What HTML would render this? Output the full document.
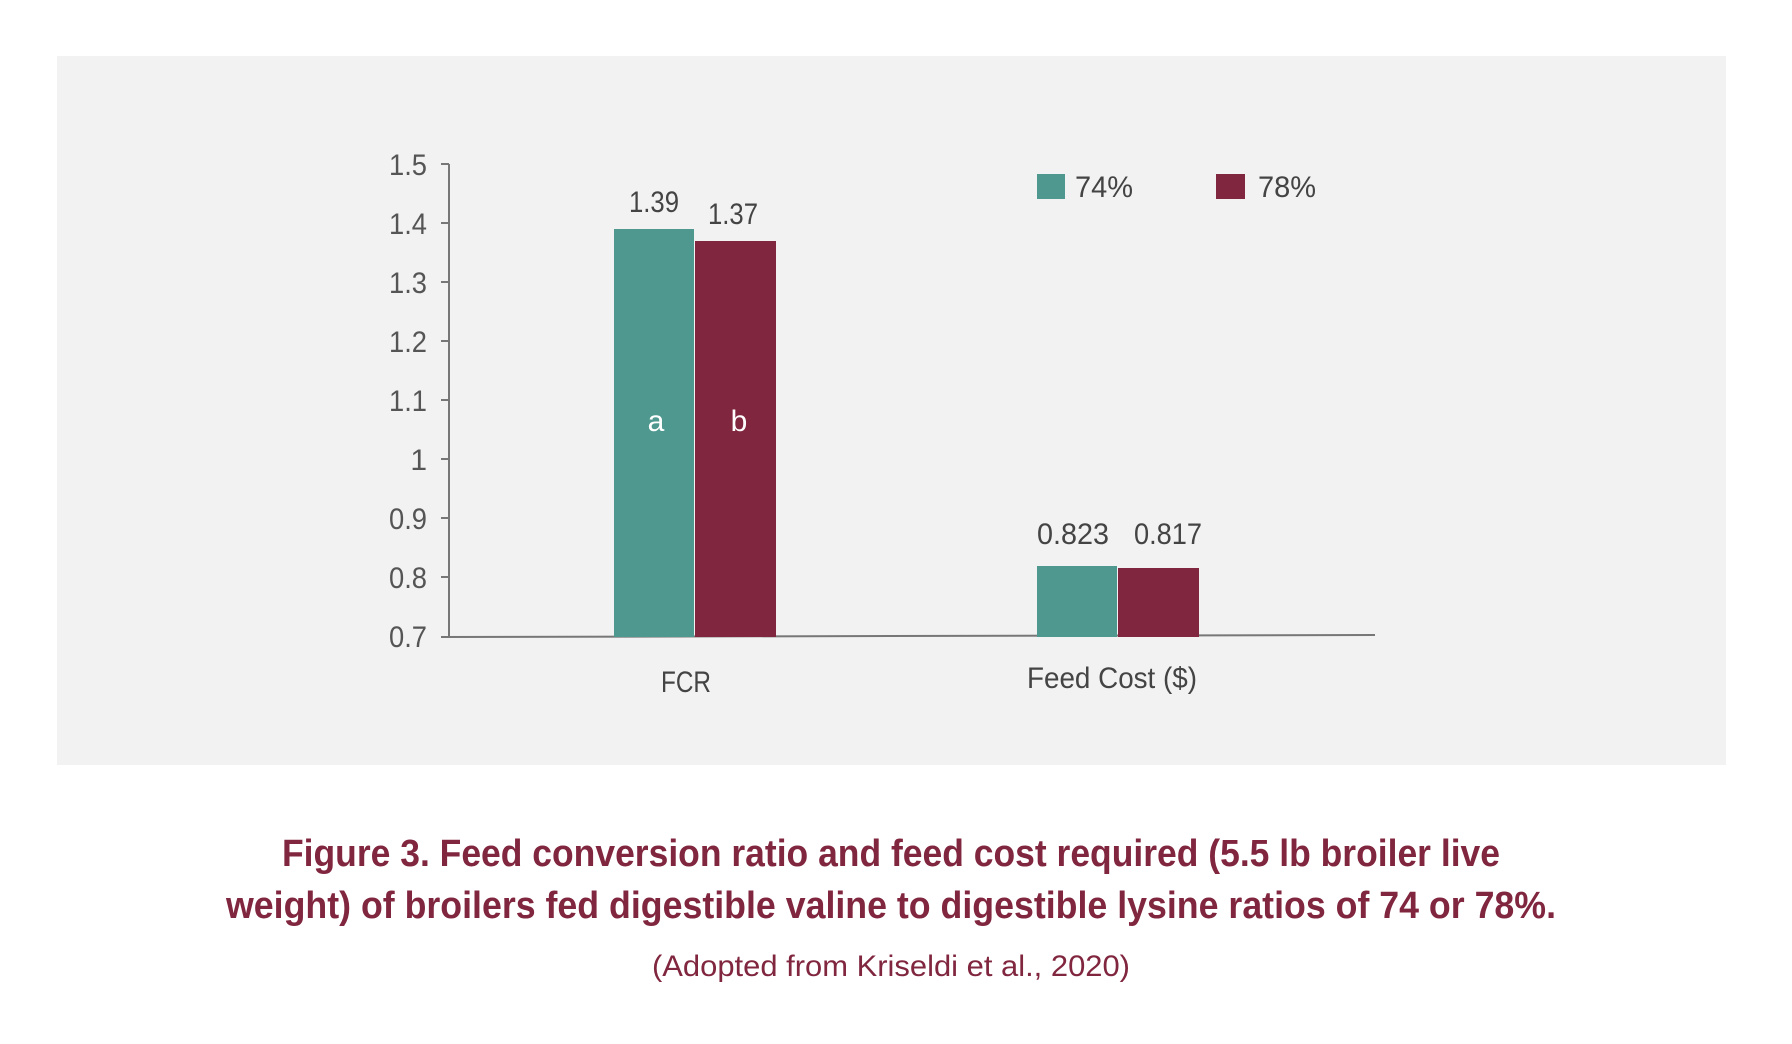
<!DOCTYPE html>
<html><head><meta charset="utf-8"><style>
html,body{margin:0;padding:0;background:#fff;}
svg{display:block;}
</style></head><body>
<svg width="1792" height="1044" viewBox="0 0 1792 1044" xmlns="http://www.w3.org/2000/svg">
<rect x="57" y="56" width="1669" height="709" fill="#f2f2f2"/>
<g fill="#555" font-family="Liberation Sans, sans-serif" font-size="30" text-anchor="end">
<text x="427" y="175" textLength="38" lengthAdjust="spacingAndGlyphs">1.5</text>
<text x="427" y="234" textLength="38" lengthAdjust="spacingAndGlyphs">1.4</text>
<text x="427" y="293" textLength="38" lengthAdjust="spacingAndGlyphs">1.3</text>
<text x="427" y="352" textLength="38" lengthAdjust="spacingAndGlyphs">1.2</text>
<text x="427" y="411" textLength="38" lengthAdjust="spacingAndGlyphs">1.1</text>
<text x="427" y="470">1</text>
<text x="427" y="529" textLength="38" lengthAdjust="spacingAndGlyphs">0.9</text>
<text x="427" y="588" textLength="38" lengthAdjust="spacingAndGlyphs">0.8</text>
<text x="427" y="647" textLength="38" lengthAdjust="spacingAndGlyphs">0.7</text>
</g>
<g stroke="#777" stroke-width="2">
<line x1="449" y1="164" x2="449" y2="637"/>
<line x1="441" y1="164" x2="449" y2="164"/>
<line x1="441" y1="223" x2="449" y2="223"/>
<line x1="441" y1="282" x2="449" y2="282"/>
<line x1="441" y1="341" x2="449" y2="341"/>
<line x1="441" y1="400" x2="449" y2="400"/>
<line x1="441" y1="459" x2="449" y2="459"/>
<line x1="441" y1="518" x2="449" y2="518"/>
<line x1="441" y1="577" x2="449" y2="577"/>
<line x1="441" y1="637" x2="1375" y2="635"/>
</g>
<rect x="614" y="229" width="80" height="408" fill="#4f9890"/>
<rect x="695" y="241" width="81" height="396" fill="#80263f"/>
<rect x="1037" y="566" width="80" height="71" fill="#4f9890"/>
<rect x="1118" y="568" width="81" height="69" fill="#80263f"/>
<g fill="#444" font-family="Liberation Sans, sans-serif" font-size="30" text-anchor="middle">
<text x="654" y="212" textLength="50" lengthAdjust="spacingAndGlyphs">1.39</text>
<text x="733" y="224" textLength="50" lengthAdjust="spacingAndGlyphs">1.37</text>
<text x="1073" y="544" textLength="72" lengthAdjust="spacingAndGlyphs">0.823</text>
<text x="1168" y="544" textLength="68" lengthAdjust="spacingAndGlyphs">0.817</text>
<text x="686" y="692" textLength="50" lengthAdjust="spacingAndGlyphs">FCR</text>
<text x="1112" y="688" textLength="170" lengthAdjust="spacingAndGlyphs">Feed Cost ($)</text>
</g>
<g fill="#fff" font-family="Liberation Sans, sans-serif" font-size="30" text-anchor="middle">
<text x="656" y="431">a</text>
<text x="739" y="431">b</text>
</g>
<rect x="1037" y="174" width="28" height="25" fill="#4f9890"/>
<rect x="1216" y="174" width="29" height="25" fill="#80263f"/>
<g fill="#444" font-family="Liberation Sans, sans-serif" font-size="30">
<text x="1075" y="197" textLength="58" lengthAdjust="spacingAndGlyphs">74%</text>
<text x="1258" y="197" textLength="58" lengthAdjust="spacingAndGlyphs">78%</text>
</g>
<g fill="#80263f" font-family="Liberation Sans, sans-serif" font-weight="bold" font-size="38" text-anchor="middle">
<text x="891" y="866" textLength="1218" lengthAdjust="spacingAndGlyphs">Figure 3. Feed conversion ratio and feed cost required (5.5 lb broiler live</text>
<text x="891" y="918" textLength="1330" lengthAdjust="spacingAndGlyphs">weight) of broilers fed digestible valine to digestible lysine ratios of 74 or 78%.</text>
</g>
<text x="891" y="976" fill="#80263f" font-family="Liberation Sans, sans-serif" font-size="30" text-anchor="middle" textLength="478" lengthAdjust="spacingAndGlyphs">(Adopted from Kriseldi et al., 2020)</text>
</svg>
</body></html>
